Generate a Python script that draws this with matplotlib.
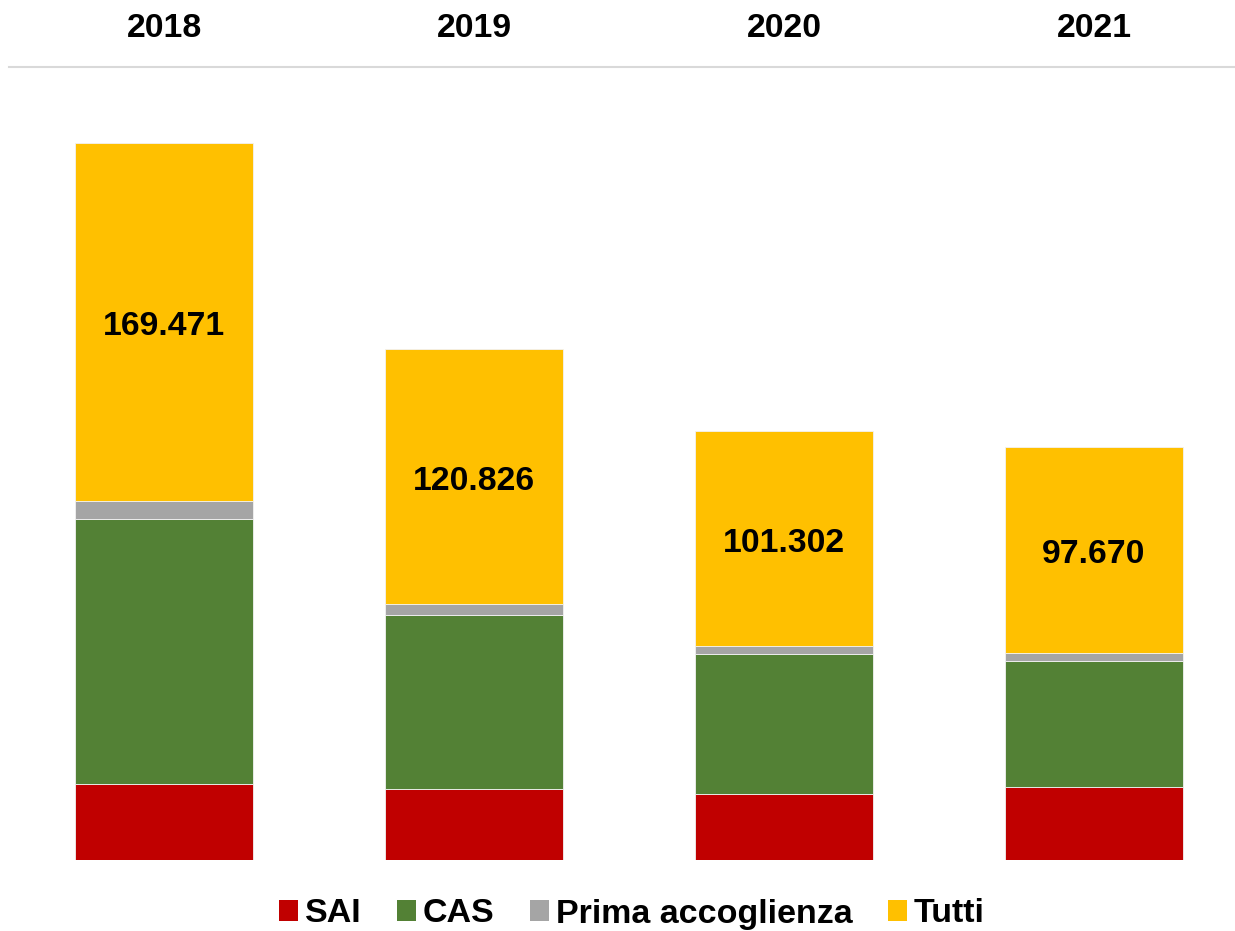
import matplotlib
matplotlib.use("Agg")
import matplotlib.pyplot as plt
import matplotlib.transforms as mtransforms
from matplotlib.patches import Patch

plt.rcParams['font.family'] = ['Liberation Sans', 'DejaVu Sans']

years = ["2018", "2019", "2020", "2021"]
sai = [17900, 16800, 15550, 17350]
cas = [62700, 41000, 33250, 29800]
prima = [4135, 2613, 1851, 1685]
tutti = [84736, 60413, 50651, 48835]
series_names = ["SAI", "CAS", "Prima accoglienza", "Tutti"]
colors = ["#C00000", "#538135", "#A5A5A5", "#FFC000"]

W, H = 1235, 931
fig = plt.figure(figsize=(W / 100, H / 100), dpi=100)
ax_left, ax_right = 9 / W, 1249 / W
ax_bottom, ax_top = 1 - 860 / H, 1 - 66.5 / H
ax = fig.add_axes([ax_left, ax_bottom, ax_right - ax_left, ax_top - ax_bottom])

x = list(range(len(years)))
width = 0.574
series = [sai, cas, prima, tutti]
bottoms = [0] * len(years)
for vals, col in zip(series, colors):
    ax.bar(x, vals, width, bottom=bottoms, color=col, edgecolor="#F2F2F2", linewidth=0.6)
    bottoms = [b + v for b, v in zip(bottoms, vals)]

totals = bottoms
lab_trans = mtransforms.offset_copy(ax.transData, fig=fig, x=0, y=-4.5, units="dots")
for i in x:
    ybase = sai[i] + cas[i] + prima[i]
    ymid = ybase + tutti[i] / 2
    label = f"{totals[i]:,}".replace(",", ".")
    ax.text(i, ymid, label, transform=lab_trans, ha="center", va="center",
            fontsize=24.3, fontweight="bold", color="black")

ax.set_xlim(-0.5, 3.5)
ax.set_ylim(0, 187550)
ax.set_xticks([])
ax.set_yticks([])
for s in ["left", "right", "bottom"]:
    ax.spines[s].set_visible(False)
ax.spines["top"].set_color("#D9D9D9")
ax.spines["top"].set_linewidth(1.5)

trans = mtransforms.blended_transform_factory(ax.transData, fig.transFigure)
trans = mtransforms.offset_copy(trans, fig=fig, x=0, y=-3.5, units="dots")
for i, yr in enumerate(years):
    ax.text(i, 1 - 25 / H, yr, transform=trans, ha="center", va="center",
            fontsize=24.3, fontweight="bold", color="black")

handles = [Patch(facecolor=c, edgecolor="none") for c in colors]
fig.legend(handles, series_names, loc="center", bbox_to_anchor=(632 / W, 1 - 914 / H),
           ncol=4, frameon=False, prop={"size": 24.5, "weight": "bold"},
           handlelength=0.55, handleheight=0.55, handletextpad=0.2,
           columnspacing=1.05, borderaxespad=0, borderpad=0)

fig.savefig("out.png", dpi=100)
